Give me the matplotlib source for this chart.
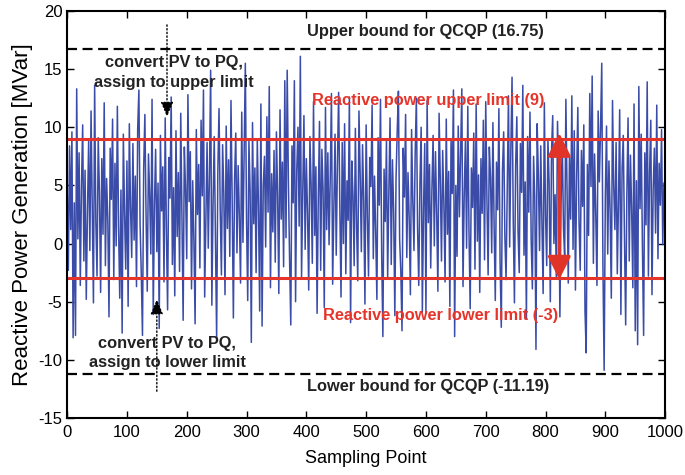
import matplotlib
matplotlib.use("Agg")
import matplotlib.pyplot as plt
import numpy as np

plt.rcParams['font.family'] = ['Liberation Sans', 'DejaVu Sans']
plt.rcParams['axes.unicode_minus'] = False

# reactive power samples (every 2nd sampling point)
q_gen = [
    5.1, -2.3, 8.4, 1.2, 9.6, -8.1, 3.5, -7.9, 13.3, 0.4, 7.8, -3.6, 4.9, 10.2, -1.5, 6.3, -4.8, 2.7, 8.9, -0.6, 11.4, 3.2, -5.1, 13.6, 1.9,
    -2.8, 9.1, 4.4, -4.2, 7.3, 0.8, 12.1, -1.9, 5.6, 2.1, -6.3, 8.2, 3.8, 10.7, -3.1, 6.9, -0.2, 11.8, 1.4, -4.7, 4.6, -7.7, 9.4, 2.6, -2.2,
    7.1, -5.4, 10.3, 3.1, -1.2, 8.6, 0.3, 5.8, -3.7, 9.9, 13.2, 1.6, -2.6, -7.9, 6.4, 11.1, 2.4, -4.1, 7.7, 4.2, -0.9, 12.4, -6.1, 3.3, 8.1,
    -0.7, 5.2, -7.3, 9.3, 2.8, 6.6, -3.3, 10.8, 1.1, -5.7, 7.4, 3.9, 12.6, -1.8, 4.8, -4.5, 9.7, 0.6, 6.1, -2.4, 11.2, 2.2, -6.6, 8.3, 4.7,
    -1.3, 12.8, 3.6, 7.9, -3.9, 5.4, 0.2, -6.9, 9.8, 2.5, 6.8, -2.1, 10.6, 4.1, 13.2, -4.6, 1.8, 8.7, -0.4, 5.9, 14.9, -5.3, 3.4, 9.2, 0.9,
    -8.1, 6.2, 11.6, 2.9, -2.7, 8.5, 4.3, -4.4, 10.1, 1.3, 7.2, -1.1, 12.3, 3.7, -6.4, 5.5, 9.5, -0.8, 6.7, 2.3, -3.4, 11.3, 0.1, 7.6, 15.5,
    2.0, -4.9, 8.8, 4.5, -8.5, 10.4, 1.7, 6.5, -2.5, 9.0, 3.0, -5.8, 12.0, -7.1, 5.0, 7.5, -0.3, 10.9, 2.7, 13.5, -3.8, 6.0, 1.0, 8.0, -1.6,
    9.6, 4.0, -4.3, 11.5, 2.1, 7.0, -2.0, 14.0, 0.5, 14.9, 5.3, -1.4, -7.0, 8.4, 3.5, 14.0, -5.0, 6.3, 10.0, 1.5, 16.1, -2.9, 4.4, 11.0, -0.5,
    7.3, 2.6, -4.0, 9.2, 5.1, -1.7, 12.2, 0.7, 6.6, -6.0, 3.9, 10.5, -2.3, 8.1, 4.6, -5.5, 11.7, 1.2, 7.8, -0.1, 5.7, 12.9, -3.5, 2.9, 9.4,
    -1.0, 6.9, 13.0, 3.2, -4.6, 8.7, 0.0, 10.3, -2.6, 5.4, 2.0, 12.6, -6.8, 7.1, 4.2, -1.9, 9.9, 1.6, -3.2, 11.4, 6.0, -0.7, 8.5, 3.6, -5.2,
    10.2, 2.4, -2.8, 7.4, 4.9, 11.9, -1.3, 5.8, 0.9, -4.8, 9.1, 3.3, 12.4, -0.9, -8.0, 6.4, 1.9, 8.9, -3.0, 4.5, 10.8, -1.8, 7.2, 2.8, -6.2,
    5.6, 9.7, 13.1, 0.4, -2.4, -7.5, 8.2, 4.0, 11.1, -1.2, 6.1, 2.2, -4.4, 9.8, 3.7, -0.6, 7.7, 12.5, 1.4, -3.6, 5.2, 10.0, -5.9, 3.0, 8.6,
    -6.0, 12.3, 1.8, 6.8, -2.1, 4.7, 9.3, -0.2, 7.9, 2.5, -4.1, 11.2, 5.5, -1.5, 8.0, 3.4, -3.3, 10.7, 0.8, 6.2, -5.4, 9.0, 4.3, 13.2, -8.0,
    5.0, -1.1, 10.1, 2.3, 7.6, 13.3, -3.7, 4.1, 8.8, -0.4, 11.8, 1.0, -5.6, 6.5, 3.1, 9.5, -2.2, 12.0, 0.2, 5.9, -4.2, 7.3, 2.6, 10.6, -1.4,
    12.2, 3.8, -2.7, 8.3, 5.7, -0.8, 10.4, 1.5, -4.9, 7.0, 2.9, 11.6, -1.6, -7.2, 6.3, 9.6, 0.6, -3.1, 4.8, 12.7, -0.3, 8.1, 14.3, 2.0, -5.1,
    6.7, 10.9, 1.1, -2.5, 8.6, 4.4, 13.6, -1.0, 5.3, -6.5, 9.2, 2.7, 11.3, 0.3, -3.9, 7.5, 3.9, -9.1, 10.3, 5.8, -0.6, 8.4, 1.7, -4.3, 12.1,
    2.4, -1.9, 9.0, 5.1, -5.0, 7.9, 11.0, 0.0, 4.2, -2.9, 10.5, 6.2, -6.3, 3.5, 8.9, 1.3, -1.2, 12.4, 4.6, -3.4, 7.4, 2.1, 12.7, -0.5, 9.7,
    -4.0, 5.6, 11.7, 1.9, -2.3, 8.0, 3.2, 10.2, -5.8, -9.4, 6.8, 0.7, 12.9, 4.9, 14.4, -1.7, 7.7, 2.5, -3.6, 11.4, 5.3, 9.9, 15.5, -2.0, -10.9,
    4.1, 10.1, -0.9, 7.1, 2.8, -4.7, 12.3, 5.0, 1.2, 8.7, -2.6, 3.6, 11.5, -6.1, 6.4, 9.3, 0.5, -7.0, 4.3, 10.8, -1.5, 7.6, 2.9, -3.8, 12.0,
    -7.5, 5.4, -8.7, 13.5, 3.0, 9.4, -0.2, -7.9, 7.8, 1.6, 13.9, -2.8, 6.1, 10.6, -4.4, 4.7, 8.2, 0.9, 11.9, -1.3, 6.9, 3.3, 9.8, -0.1, 5.2,
]
sample_step = 2

q_upper = 9
q_lower = -3
qcqp_upper = 16.75
qcqp_lower = -11.19

x = np.arange(len(q_gen)) * sample_step

fig = plt.figure(figsize=(6.85, 4.75), dpi=100)
ax = fig.add_axes([0.098, 0.12, 0.873, 0.857])

ax.plot(x, q_gen, color="#3a4ca8", linewidth=1.1)
ax.axhline(q_upper, color="#e5352b", linewidth=2.2)
ax.axhline(q_lower, color="#e5352b", linewidth=2.2)
ax.axhline(qcqp_upper, color="black", linewidth=1.6, linestyle=(0, (4.5, 2.5)))
ax.axhline(qcqp_lower, color="black", linewidth=1.6, linestyle=(0, (4.5, 2.5)))

bold = dict(fontsize=11.8, fontweight="bold", ha="center", va="center")
ax.text(600, 18.2, "Upper bound for QCQP (%.2f)" % qcqp_upper, color="#222222", **bold)
ax.text(603, -12.3, "Lower bound for QCQP (%.2f)" % qcqp_lower, color="#222222", **bold)
ax.text(604, 12.3, "Reactive power upper limit (%d)" % q_upper, color="#e5352b", **bold)
ax.text(625, -6.2, "Reactive power lower limit (%d)" % q_lower, color="#e5352b", **bold)
ax.text(178, 14.7, "convert PV to PQ,\nassign to upper limit", color="#222222", linespacing=1.35, **bold)
ax.text(167, -9.4, "convert PV to PQ,\nassign to lower limit", color="#222222", linespacing=1.35, **bold)

# dotted pointers
ax.annotate("", xy=(167, 10.9), xytext=(167, 18.8),
            arrowprops=dict(arrowstyle="-|>,head_length=0.9,head_width=0.38", color="black",
                            linestyle=":", linewidth=1, shrinkA=0, shrinkB=0))
ax.annotate("", xy=(150, -4.8), xytext=(150, -12.7),
            arrowprops=dict(arrowstyle="-|>,head_length=0.9,head_width=0.38", color="black",
                            linestyle=":", linewidth=1, shrinkA=0, shrinkB=0))

# band arrow
ax.annotate("", xy=(823, q_upper + 0.5), xytext=(823, q_lower - 0.1),
            arrowprops=dict(arrowstyle="<|-|>,head_length=1.4,head_width=0.7", color="#e03428",
                            linewidth=2.4, shrinkA=0, shrinkB=0))

ax.set_xlim(0, 1000)
ax.set_ylim(-15, 20)
ax.set_xticks(np.arange(0, 1001, 100))
ax.set_yticks(np.arange(-15, 21, 5))
ax.tick_params(direction="in", top=True, right=True, labelsize=12, length=5, width=1)
ax.tick_params(axis="x", pad=5)
for s in ax.spines.values():
    s.set_linewidth(1.5)
ax.set_xlabel("Sampling Point", fontsize=13, labelpad=7)
ax.set_ylabel("Reactive Power Generation [MVar]", fontsize=16, labelpad=4)

fig.savefig("out.png", dpi=100)
